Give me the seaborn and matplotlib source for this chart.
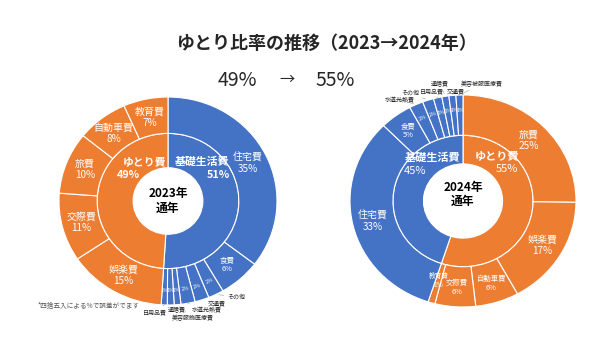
import numpy as np
import matplotlib
matplotlib.use("Agg")
import matplotlib.pyplot as plt
import seaborn as sns

# ---------------- data ----------------
title = "ゆとり比率の推移（2023→2024年）"
ratio_from = "49%"
ratio_to = "55%"
note = "*四捨五入による%で誤差がでます"

center_2023 = "2023年\n通年"
inner_labels_2023 = ["基礎生活費", "ゆとり費"]
inner_values_2023 = [51, 49]
outer_labels_2023 = ["住宅費", "食費", "その他", "交通費", "水道光熱費", "美容服飾医療費",
                     "通信費", "日用品費", "娯楽費", "交際費", "旅費", "自動車費", "教育費"]
outer_values_2023 = [35.4, 6.2, 2.3, 2.1, 2.1, 1.0, 1.0, 0.9, 14.6, 10.6, 9.6, 7.6, 6.6]
outer_groups_2023 = [0, 0, 0, 0, 0, 0, 0, 0, 1, 1, 1, 1, 1]

center_2024 = "2024年\n通年"
inner_labels_2024 = ["ゆとり費", "基礎生活費"]
inner_values_2024 = [55, 45]
outer_labels_2024 = ["旅費", "娯楽費", "自動車費", "交際費", "教育費", "住宅費", "食費",
                     "水道光熱費", "その他", "日用品費", "通信費", "交通費", "美容被服医療費"]
outer_values_2024 = [25.2, 16.8, 6.2, 5.8, 1.0, 32.6, 4.6, 2.0, 1.6, 1.2, 1.0, 1.0, 1.0]
outer_groups_2024 = [1, 1, 1, 1, 1, 0, 0, 0, 0, 0, 0, 0, 0]
inner_groups_2024 = [1, 0]
inner_groups_2023 = [0, 1]

# ---------------- style ----------------
sns.set_theme(style="white")
plt.rcParams["font.family"] = ["Noto Sans CJK JP", "DejaVu Sans"]
palette = ["#4472C4", "#ED7D31"]

W, H = 607, 346
fig = plt.figure(figsize=(W / 100, H / 100), dpi=100)
fig.patch.set_facecolor("white")


def fx(px):
    return px / W


def fy(py):
    return 1 - py / H


def pct(v):
    return f"{int(np.floor(v + 0.5))}%"


def draw_donut(ax, inner_vals, inner_groups, outer_vals, outer_groups, outer_labels,
               r_hole, r_mid, big_fs, small_fs, ext_pos):
    ax.pie(inner_vals, radius=r_mid, startangle=90, counterclock=False,
           colors=[palette[g] for g in inner_groups],
           wedgeprops=dict(width=r_mid - r_hole, edgecolor="white", linewidth=0.8))
    wedges, _ = ax.pie(outer_vals, radius=1.0, startangle=90, counterclock=False,
                       colors=[palette[g] for g in outer_groups],
                       wedgeprops=dict(width=1 - r_mid, edgecolor="white", linewidth=0.8))
    ax.set_aspect("auto")
    ax.set_xlim(-1, 1)
    ax.set_ylim(-1, 1)
    ax.axis("off")
    for w, v, lab in zip(wedges, outer_vals, outer_labels):
        mid = np.deg2rad((w.theta1 + w.theta2) / 2)
        c, s = np.cos(mid), np.sin(mid)
        if lab not in ext_pos:
            r = 0.82
            fs = big_fs if v >= 6.5 else small_fs
            if v < 3:
                r = 0.78
                fs = small_fs - 0.5
            ax.text(r * c, r * s, f"{lab}\n{pct(v)}", ha="center", va="center",
                    color="white", fontsize=fs, linespacing=1.15)
        else:
            r = 0.86
            rot = np.rad2deg(mid) - 90
            rot = (rot + 90) % 180 - 90
            ax.text(r * c, r * s, pct(v), ha="center", va="center", color="white",
                    fontsize=3.8, rotation=rot)
            tx, ty = ext_pos[lab]
            ax.annotate(lab, xy=(1.0 * c, 1.0 * s), xytext=(tx, ty),
                        ha="center", va="center", fontsize=4.3, color="#222222",
                        annotation_clip=False,
                        arrowprops=dict(arrowstyle="-", color="#999999", lw=0.4,
                                        shrinkA=0, shrinkB=2))


# left donut (2023)
ax1 = fig.add_axes([fx(59), fy(305), 218 / W, 208 / H])
ext_2023 = {"その他": (0.624, -0.923), "交通費": (0.450, -0.981), "水道光熱費": (0.358, -1.048),
            "美容服飾医療費": (0.229, -1.125), "通信費": (0.083, -1.048), "日用品費": (-0.119, -1.067)}
draw_donut(ax1, inner_values_2023, inner_groups_2023, outer_values_2023, outer_groups_2023,
           outer_labels_2023, 0.32, 0.65, 7.2, 5.4, ext_2023)
ax1.text(0.31, 0.375, inner_labels_2023[0], ha="center", va="center", color="white",
         fontsize=7.8, fontweight="bold")
ax1.text(0.46, 0.25, pct(inner_values_2023[0]), ha="center", va="center", color="white",
         fontsize=7.8, fontweight="bold")
ax1.text(-0.21, 0.375, inner_labels_2023[1], ha="center", va="center", color="white",
         fontsize=7.8, fontweight="bold")
ax1.text(-0.36, 0.25, pct(inner_values_2023[1]), ha="center", va="center", color="white",
         fontsize=7.8, fontweight="bold")
ax1.text(0, 0.0, center_2023, ha="center", va="center", color="black",
         fontsize=8.5, fontweight="bold", linespacing=1.15)

# right donut (2024)
ax2 = fig.add_axes([fx(350), fy(307), 226 / W, 212 / H])
ext_2024 = {"水道光熱費": (-0.558, 0.953), "その他": (-0.469, 1.019), "日用品費": (-0.274, 1.038),
            "通信費": (-0.204, 1.104), "交通費": (-0.062, 1.038), "美容被服医療費": (0.168, 1.104)}
draw_donut(ax2, inner_values_2024, inner_groups_2024, outer_values_2024, outer_groups_2024,
           outer_labels_2024, 0.35, 0.62, 7.2, 5.3, ext_2024)
ax2.text(0.30, 0.43, inner_labels_2024[0], ha="center", va="center", color="white",
         fontsize=8, fontweight="bold")
ax2.text(0.39, 0.30, pct(inner_values_2024[0]), ha="center", va="center", color="white",
         fontsize=8)
ax2.text(-0.27, 0.415, inner_labels_2024[1], ha="center", va="center", color="white",
         fontsize=8, fontweight="bold")
ax2.text(-0.42, 0.28, pct(inner_values_2024[1]), ha="center", va="center", color="white",
         fontsize=8)
ax2.text(0, 0.06, center_2024, ha="center", va="center", color="black",
         fontsize=8.5, fontweight="bold", linespacing=1.15)

# titles & note
fig.text(fx(326), fy(43), title, ha="center", va="center", fontsize=13, fontweight="bold")
fig.text(fx(237), fy(80), ratio_from, ha="center", va="center", fontsize=14)
fig.text(fx(287), fy(79), "→", ha="center", va="center", fontsize=11)
fig.text(fx(335), fy(80), ratio_to, ha="center", va="center", fontsize=14)
fig.text(fx(38), fy(306), note, ha="left", va="center", fontsize=4.8, color="#555555")

fig.savefig("out.png", dpi=100, facecolor="white")
